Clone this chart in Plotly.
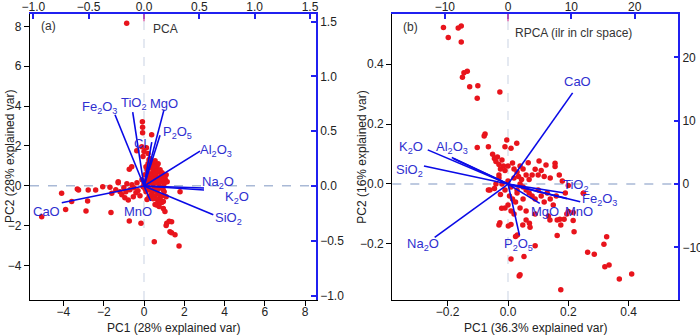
import plotly.graph_objects as go

# ---------------- Panel (a): PCA scores ----------------
pca_x = [-0.86, -0.08, -0.07, -0.07, 0.38, -0.36, -0.11, 0.0, 0.2, -0.05, 0.12, 0.25, 0.35, 0.45, 0.55,
         0.65, 0.7, 0.6, 0.5, -0.73, -1.28,
         -4.09, -3.89, -5.08, -3.59, -3.31, -3.25, -2.77, -2.8, -2.88, -2.4, -2.05, -1.64, -1.69, -1.6,
         -1.28, -1.19, -0.61, -0.53, -0.78, -1.0, -0.9, -0.7, -0.5, -0.4, -0.3, -0.6, -0.85, -1.1, -0.95,
         -0.35, -0.2, -1.4,
         -0.73, -0.15, 0.51, 1.74, 1.29, 1.37, 1.54, 1.13, 1.37, 1.25, 1.1, 1.04, 0.96, 0.88, 0.63, 0.75,
         1.79, 0.96, 0.8, 0.7, 0.9, 1.1, 1.0,
         0.1, 0.2, 0.3, 0.4, 0.5, 0.6, 0.7, 0.8, 0.9, 1.0, 0.15, 0.25, 0.35, 0.45, 0.55, 0.65, 0.75, 0.85,
         0.95, 0.2, 0.3, 0.4, 0.5, 0.6, 0.7, 0.1, 0.0, -0.1, 0.05, 0.15, 0.3, 0.45, 0.6, 0.75, 0.85, 0.5,
         0.4, 0.3, 0.2, 0.1, 0.55, 0.65, 0.35, 0.25, 0.8, 0.9, 1.05, 1.1, 1.15, 0.95, 0.05, -0.05, 0.35,
         0.55, 0.45, 0.65, 0.25, 0.15, 0.75, 0.55]
pca_y = [8.15, 3.21, 2.93, 2.66, 2.56, 1.76, 1.96, 1.72, 1.62, 1.46, 1.9, 1.3, 1.15, 1.2, 1.05,
         1.0, 1.1, 0.85, 0.7, 0.82, 0.2,
         -0.38, -1.19, -1.56, -0.8, -0.17, -0.22, -0.22, -0.77, -1.27, -0.22, -0.05, -1.35, -0.08, -0.38,
         0.15, -0.3, 0.95, -0.55, -0.72, -0.1, -0.3, -0.2, -0.1, -0.35, -0.25, 0.05, 0.1, -0.45, -0.6,
         0.15, -0.5, -0.2,
         -1.77, -1.89, -2.81, -3.03, -2.31, -2.36, -2.47, -1.89, -1.81, -1.78, -2.0, -1.3, -1.14, -0.85, -0.97, -1.05,
         -0.3, -0.8, -0.6, -0.4, -0.5, -0.55, -0.3,
         0.2, 0.4, 0.6, 0.5, 0.3, 0.5, 0.7, 0.4, 0.2, 0.1, 0.8, 1.0, 0.9, 0.8, 0.6, 0.3, 0.1, -0.1,
         -0.2, -0.1, -0.2, -0.3, -0.1, -0.25, -0.15, -0.3, 0.1, 0.3, 0.55, 0.05, 0.15, 0.1, 0.15, 0.3, 0.55, 0.95,
         1.2, 1.35, 1.1, 0.95, 1.25, 0.75, 0.35, 0.25, 0.8, 0.65, 0.35, 0.55, 0.2, 0.45, -0.15, -0.05, -0.45,
         -0.5, -0.65, -0.7, -0.55, -0.7, -0.85, -0.95]

# PCA loadings (secondary axes)
pca_vars = ["Fe<sub>2</sub>O<sub>3</sub>", "TiO<sub>2</sub>", "MgO", "P<sub>2</sub>O<sub>5</sub>", "Cl",
            "Al<sub>2</sub>O<sub>3</sub>", "Na<sub>2</sub>O", "K<sub>2</sub>O", "SiO<sub>2</sub>", "CaO", "MnO"]
pca_load_x = [-0.262, -0.102, 0.181, 0.145, 0.07, 0.506, 0.542, 0.542, 0.626, -0.743, 0.06]
pca_load_y = [0.651, 0.675, 0.697, 0.463, 0.40, 0.319, -0.018, -0.036, -0.261, -0.152, -0.137]
pca_lab_x = [-0.40, -0.09, 0.18, 0.30, -0.035, 0.65, 0.67, 0.836, 0.76, -0.885, -0.054]
pca_lab_y = [0.72, 0.754, 0.754, 0.49, 0.39, 0.32, 0.03, -0.106, -0.30, -0.23, -0.23]

# ---------------- Panel (b): RPCA scores ----------------
rpca_x = [-0.214, -0.165, -0.155, -0.198, -0.155, -0.135, -0.146, -0.151, -0.1, -0.127, -0.027, -0.102,
          -0.076, -0.079, -0.102, -0.065, -0.004, 0.029, 0.01, -0.01, -0.051, -0.045, -0.04, -0.03, -0.035,
          -0.02, -0.015, -0.025, -0.01, 0.0, 0.015, 0.02, 0.03, 0.04, 0.05, 0.067, 0.103, 0.126, 0.156, 0.09,
          0.08, 0.1, 0.12, 0.14, 0.11, 0.06, 0.07, 0.156, 0.17, 0.18, 0.2, 0.19, 0.25, -0.065, -0.06,
          -0.03, -0.02, -0.01, 0.0, 0.01, 0.02, 0.03, 0.04, -0.04, -0.045, 0.005, 0.015, 0.025, 0.0, -0.01,
          0.01, 0.02, -0.021, 0.03, 0.05, 0.06, 0.07, 0.08, 0.09, 0.1, 0.11, 0.12, 0.13, 0.14, 0.15, 0.16,
          0.05, 0.04, 0.06, 0.09, 0.134, -0.03, -0.025, 0.035, 0.045,
          -0.027, 0.001, 0.01, 0.049, 0.06, 0.071, 0.073, 0.031, 0.025, 0.09, 0.01, 0.053, 0.037, 0.175,
          0.163, 0.163, 0.175, 0.186, 0.216, 0.219, 0.195, 0.216, 0.264, 0.286, 0.327, 0.318, 0.321, 0.335,
          0.369, 0.41, 0.2, 0.25, 0.139, 0.172, -0.03, 0.04]
rpca_y = [0.522, 0.52, 0.527, 0.489, 0.474, 0.376, 0.371, 0.356, 0.328, 0.324, 0.307, 0.286,
          0.167, 0.16, 0.122, 0.124, 0.147, 0.136, 0.119, 0.124, 0.099, 0.085, 0.075, 0.065, 0.09,
          0.08, 0.06, 0.05, 0.045, 0.06, 0.07, 0.05, 0.04, 0.06, 0.05, 0.071, 0.077, 0.063, 0.069, 0.049,
          0.03, 0.03, 0.025, 0.02, 0.045, 0.03, 0.015, 0.058, 0.03, 0.01, -0.005, -0.03, -0.031, -0.02, -0.02,
          0.02, 0.0, -0.02, 0.01, -0.01, 0.02, -0.02, 0.0, 0.0, -0.015, -0.04, -0.05, -0.06, -0.07, -0.08,
          -0.09, -0.1, -0.081, -0.03, -0.01, -0.02, -0.03, -0.04, -0.05, -0.02, -0.04, -0.06, -0.03, -0.05, -0.07, -0.04,
          -0.05, -0.08, -0.09, -0.1, -0.107, 0.03, -0.035, 0.025, 0.015,
          -0.129, -0.14, -0.135, -0.137, -0.12, -0.131, -0.144, -0.17, -0.175, -0.206, -0.25, -0.242, -0.307, -0.353,
          -0.12, -0.172, -0.137, -0.118, -0.122, -0.159, -0.1, -0.095, -0.228, -0.234, -0.176, -0.201, -0.276, -0.27,
          -0.317, -0.3, -0.092, -0.031, -0.12, -0.118, -0.137, -0.303]

rpca_vars = ["CaO", "K<sub>2</sub>O", "Al<sub>2</sub>O<sub>3</sub>", "", "SiO<sub>2</sub>", "Na<sub>2</sub>O",
             "TiO<sub>2</sub>", "Fe<sub>2</sub>O<sub>3</sub>", "MnO", "MgO", "P<sub>2</sub>O<sub>5</sub>"]
rpca_load_x = [10.2, -12.7, -8.9, -8.6, -13.3, -11.6, 8.7, 11.4, 9.3, 5.0, 1.8]
rpca_load_y = [14.4, 5.4, 4.2, 4.0, 2.84, -8.4, -1.37, -2.8, -2.3, -3.05, -8.1]
rpca_lab_x = [11.0, -15.4, -8.8, None, -15.6, -13.4, 10.7, 14.5, 11.2, 5.8, 1.6]
rpca_lab_y = [16.2, 5.7, 5.7, None, 2.2, -9.6, -0.26, -2.5, -4.4, -4.4, -9.6]

RED = "#e8141c"
LINEBLUE = "#0a0ae6"
LABBLUE = "#2f2fd0"
AXBLUE = "#2020f0"
FONT = "Liberation Sans, Arial, sans-serif"


def seg(xs, ys):
    lx, ly = [], []
    for a, b in zip(xs, ys):
        lx += [0, a, None]
        ly += [0, b, None]
    return lx, ly


fig = go.Figure()
fig.add_trace(go.Scatter(x=pca_x, y=pca_y, mode="markers", xaxis="x", yaxis="y",
                         marker=dict(color=RED, size=5.5), showlegend=False))
lx, ly = seg(pca_load_x, pca_load_y)
fig.add_trace(go.Scatter(x=lx, y=ly, mode="lines", xaxis="x2", yaxis="y2",
                         line=dict(color=LINEBLUE, width=1.6), showlegend=False))
fig.add_trace(go.Scatter(x=rpca_x, y=rpca_y, mode="markers", xaxis="x3", yaxis="y3",
                         marker=dict(color=RED, size=5.5), showlegend=False))
lx, ly = seg(rpca_load_x, rpca_load_y)
fig.add_trace(go.Scatter(x=lx, y=ly, mode="lines", xaxis="x4", yaxis="y4",
                         line=dict(color=LINEBLUE, width=1.6), showlegend=False))

W, H = 700, 335
dxa = [30 / W, 316 / W]
dxb = [392.3 / W, 678.3 / W]
dy = [(H - 300) / H, (H - 14) / H]


def px(x):
    return x / W


def py(y):
    return (H - y) / H


def ax_black(**kw):
    d = dict(showline=True, linecolor="black", linewidth=1.2, ticks="outside", ticklen=5,
             tickcolor="black", tickwidth=1.2, showgrid=False, zeroline=False, automargin=False,
             tickfont=dict(size=12, color="#222", family=FONT))
    d.update(kw)
    return d


def ax_blue(**kw):
    d = dict(showline=True, linecolor=AXBLUE, linewidth=1.5, ticks="inside", ticklen=5,
             tickcolor=AXBLUE, tickwidth=1.5, showgrid=False, zeroline=False, automargin=False,
             tickfont=dict(size=12, color="#222", family=FONT))
    d.update(kw)
    return d


fig.update_layout(
    width=W, height=H, margin=dict(l=0, r=0, t=0, b=0, autoexpand=False),
    paper_bgcolor="white", plot_bgcolor="white", font=dict(family=FONT),
    xaxis=ax_black(domain=dxa, range=[-5.66, 8.54], dtick=2, anchor="y", ticklabelstandoff=-5),
    yaxis=ax_black(domain=dy, range=[-5.74, 8.62], dtick=2, anchor="x"),
    xaxis2=ax_blue(overlaying="x", side="top", anchor="y", range=[-1.03, 1.554], dtick=0.5,
                   tickformat=".1f", ticklabelstandoff=-4),
    yaxis2=ax_blue(overlaying="y", side="right", anchor="x", range=[-1.04, 1.57], dtick=0.5,
                   tickformat=".1f"),
    xaxis3=ax_black(domain=dxb, range=[-0.3835, 0.5645], tickvals=[-0.2, 0, 0.2, 0.4], tickformat=".1f",
                    anchor="y3", ticklabelstandoff=-5),
    yaxis3=ax_black(domain=dy, range=[-0.387, 0.567], tickvals=[-0.2, 0, 0.2, 0.4], tickformat=".1f",
                    anchor="x3"),
    xaxis4=ax_blue(overlaying="x3", side="top", anchor="y3", range=[-18.3, 26.9], dtick=10,
                   ticklabelstandoff=-4),
    yaxis4=ax_blue(overlaying="y3", side="right", anchor="x3", range=[-18.3, 26.85], dtick=10),
)

shapes = []
for xr, yr in [("x", "y"), ("x3", "y3")]:
    shapes.append(dict(type="line", xref=xr + " domain", yref=yr, x0=0, x1=1, y0=0, y1=0,
                       line=dict(color="#a9b9d6", width=1.5, dash="dash"), layer="below"))
    shapes.append(dict(type="line", xref=xr, yref=yr + " domain", x0=0, x1=0, y0=0, y1=1,
                       line=dict(color="#d3dae8", width=1.2, dash="dash"), layer="below"))
    shapes.append(dict(type="line", xref=xr, yref=yr + " domain", x0=0, x1=0, y0=0.975, y1=1,
                       line=dict(color="#e060a8", width=1.5), layer="above"))
fig.update_layout(shapes=shapes)

ann = []
for t, x, y in zip(pca_vars, pca_lab_x, pca_lab_y):
    ann.append(dict(text=t, x=x, y=y, xref="x2", yref="y2", showarrow=False,
                    xanchor="center", yanchor="middle",
                    font=dict(size=13, color=LABBLUE, family=FONT)))
for t, x, y in zip(rpca_vars, rpca_lab_x, rpca_lab_y):
    if x is None:
        continue
    ann.append(dict(text=t, x=x, y=y, xref="x4", yref="y4", showarrow=False,
                    xanchor="center", yanchor="middle",
                    font=dict(size=13, color=LABBLUE, family=FONT)))

GRAY = "#333333"
ann += [
    dict(text="(a)", x=-4.72, y=8.02, xref="x", yref="y", showarrow=False,
         font=dict(size=12, color=GRAY, family=FONT)),
    dict(text="PCA", x=0.33, y=7.85, xref="x", yref="y", showarrow=False, xanchor="left",
         font=dict(size=12, color=GRAY, family=FONT)),
    dict(text="(b)", x=-0.356, y=0.524, xref="x3", yref="y3", showarrow=False, xanchor="left",
         font=dict(size=12, color=GRAY, family=FONT)),
    dict(text="RPCA (ilr in clr space)", x=0.0156, y=0.504, xref="x3", yref="y3", showarrow=False,
         xanchor="left", font=dict(size=12, color=GRAY, family=FONT)),
]
for t, x, y, ang in [("PC1 (28% explained var)", 173, 328, 0),
                     ("PC1 (36.3% explained var)", 535, 328, 0),
                     ("PC2 (28% explained var)", 10, 157, -90),
                     ("PC2 (16% explained var)", 361.7, 157, -90)]:
    ann.append(dict(text=t, x=px(x), y=py(y), xref="paper", yref="paper", showarrow=False,
                    xanchor="center", yanchor="middle", textangle=ang,
                    font=dict(size=12, color="#222", family=FONT)))
fig.update_layout(annotations=ann)

fig.write_html("out.html", config={"displayModeBar": False},
               post_script="document.body.style.margin='0';document.body.style.padding='0';")
